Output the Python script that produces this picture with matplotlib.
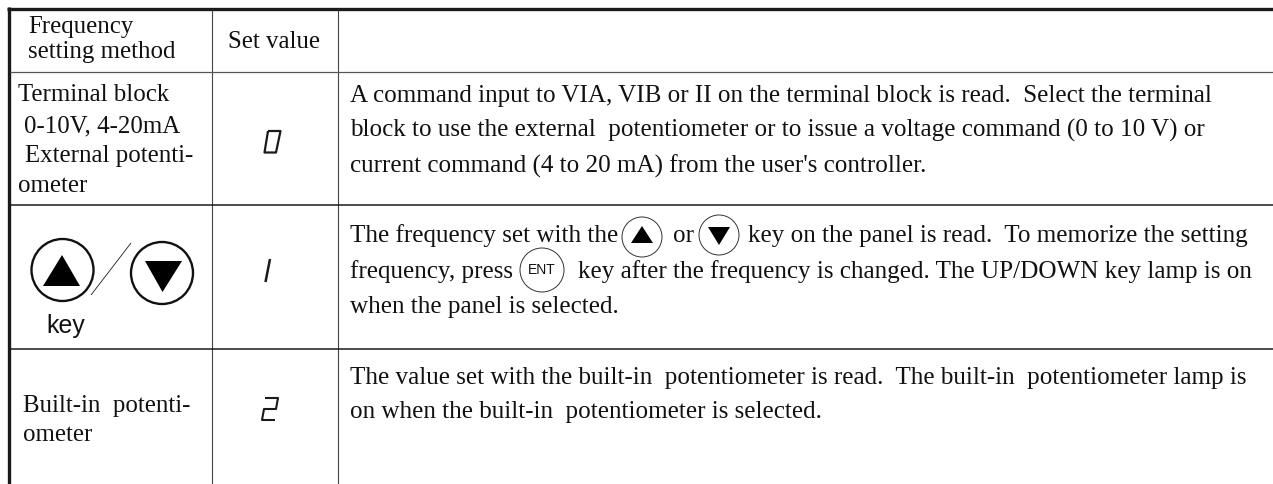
# Frequency setting method table, drawn in pixel coordinates
import matplotlib
matplotlib.use("Agg")
import matplotlib.pyplot as plt
from matplotlib.patches import Circle, Polygon

SERIF = "Liberation Serif"
SANS = "Liberation Sans"
DESC_SIZE = 18.08
LEFT_SIZE = 17.9
DESC_X = 350

header_method = ["Frequency", "setting method"]
header_value = "Set value"
row1_method = ["Terminal block", "0-10V, 4-20mA", "External potenti-", "ometer"]
row3_method = ["Built-in  potenti-", "ometer"]
key_label = "key"

row1_desc = [
    "A command input to VIA, VIB or II on the terminal block is read.  Select the terminal",
    "block to use the external  potentiometer or to issue a voltage command (0 to 10 V) or",
    "current command (4 to 20 mA) from the user's controller.",
]
row2_line1 = ["The frequency set with the", "or", "key on the panel is read.  To memorize the setting"]
row2_line2 = ["frequency, press", "key after the frequency is changed. The UP/DOWN key lamp is on"]
row2_line3 = "when the panel is selected."
row3_desc = [
    "The value set with the built-in  potentiometer is read.  The built-in  potentiometer lamp is",
    "on when the built-in  potentiometer is selected.",
]

fig = plt.figure(figsize=(12.73, 4.84), dpi=100)
ax = fig.add_axes([0, 0, 1, 1])
ax.set_xlim(0, 1273)
ax.set_ylim(484, 0)
ax.axis("off")


def txt(x, y, s, family=SERIF, size=DESC_SIZE, **kw):
    ax.text(x, y, s, family=family, fontsize=size, color="#111111", va="baseline", ha="left", **kw)


def seg(xs, ys, lw=1.5, color="#1a1a1a"):
    ax.plot(xs, ys, color=color, lw=lw, solid_capstyle="butt")


# table lines
seg([7, 1273], [9, 9], lw=2.4)
seg([9, 9], [7, 484], lw=2.4)
seg([211.5, 211.5], [10, 484], lw=0.8, color="#444444")
seg([338, 338], [10, 484], lw=0.8, color="#444444")
seg([10, 1273], [72, 72], lw=0.9, color="#555555")
seg([10, 1273], [205, 205], lw=1.1)
seg([10, 1273], [349, 349], lw=1.1)

# header
txt(28, 33, header_method[0], size=LEFT_SIZE)
txt(28, 58, header_method[1], size=LEFT_SIZE)
txt(228, 48, header_value, size=LEFT_SIZE)

# left column
for x, y, s in zip([18, 24, 25, 18], [101, 132, 162, 192], row1_method):
    txt(x, y, s, size=LEFT_SIZE)
for y, s in zip([412, 441], row3_method):
    txt(23, y, s, size=LEFT_SIZE)
txt(46, 333, key_label, family=SANS, size=LEFT_SIZE)

# big key symbols
ax.add_patch(Circle((62.5, 270), 31, fill=False, ec="#111111", lw=1.7))
ax.add_patch(Circle((162, 273), 31, fill=False, ec="#111111", lw=1.7))
ax.add_patch(Polygon([(62, 255), (43, 286), (80, 286)], color="black", lw=0))
ax.add_patch(Polygon([(145, 261), (182, 261), (162.5, 292)], color="black", lw=0))
seg([91, 131], [295, 243], lw=0.6)

# seven segment digits
seg([268, 280.5, 276, 264.5, 268], [131, 131, 152.5, 152.5, 131], lw=1.6)
seg([270, 265.5], [259, 282], lw=1.8)
seg([265, 278, 276, 264, 262, 275], [398, 398, 409, 409, 420, 420], lw=1.5)

# description text
for y, s in zip([102, 137, 173], row1_desc):
    txt(DESC_X, y, s)
for x, s in zip([DESC_X, 673, 748], row2_line1):
    txt(x, 242, s)
for x, s in zip([DESC_X, 578], row2_line2):
    txt(x, 278, s)
txt(DESC_X, 313, row2_line3)
for y, s in zip([384, 418], row3_desc):
    txt(DESC_X, y, s)

# inline key symbols
ax.add_patch(Circle((642, 237), 20, fill=False, ec="#333333", lw=0.7))
ax.add_patch(Circle((719, 235), 20, fill=False, ec="#333333", lw=0.7))
ax.add_patch(Circle((542, 270), 22, fill=False, ec="#333333", lw=0.7))
ax.add_patch(Polygon([(642, 226), (631, 243), (653, 243)], color="black", lw=0))
ax.add_patch(Polygon([(708, 227), (730, 227), (719, 245)], color="black", lw=0))
ax.text(542, 270, "ENT", family=SANS, fontsize=10, color="#111111", ha="center", va="center")

fig.savefig("out.png", dpi=100, facecolor="white")
